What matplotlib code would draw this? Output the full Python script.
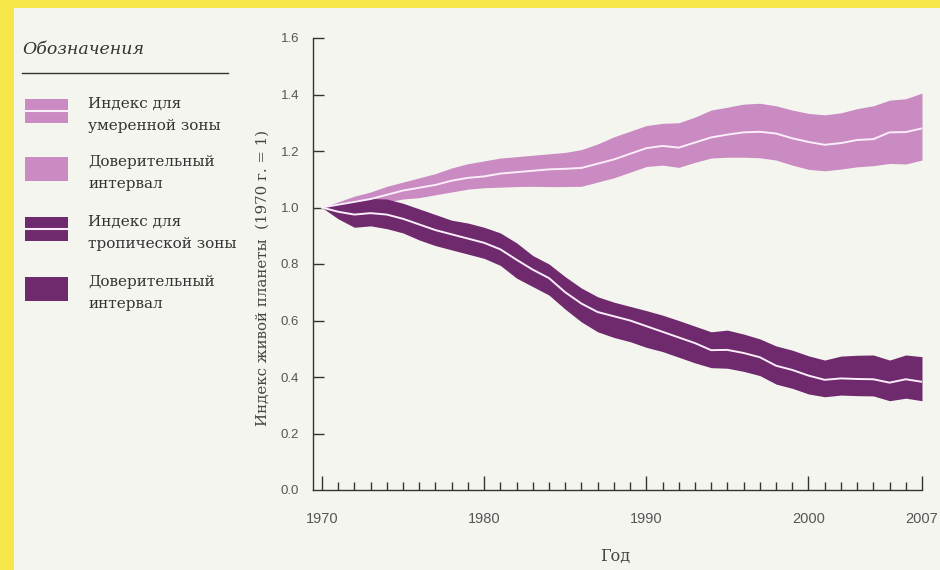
import numpy as np
import matplotlib.pyplot as plt
from matplotlib.patches import Rectangle
from matplotlib.lines import Line2D
from matplotlib.ticker import MultipleLocator, FixedLocator

years = list(range(1970, 2008))

# temperate zone index and confidence interval
temp_mid = [1.00, 1.01, 1.02, 1.03, 1.045, 1.06, 1.07, 1.08, 1.095, 1.105,
            1.11, 1.12, 1.125, 1.13, 1.135, 1.137, 1.14, 1.155, 1.17, 1.19,
            1.21, 1.218, 1.212, 1.23, 1.248, 1.258, 1.266, 1.268, 1.262, 1.245,
            1.232, 1.222, 1.228, 1.239, 1.242, 1.266, 1.267, 1.28]
temp_lo = [1.00, 1.00, 1.005, 1.01, 1.02, 1.03, 1.035, 1.045, 1.055, 1.065,
           1.07, 1.072, 1.074, 1.075, 1.074, 1.074, 1.075, 1.09, 1.105, 1.125,
           1.145, 1.15, 1.142, 1.16, 1.175, 1.178, 1.178, 1.176, 1.168, 1.15,
           1.135, 1.13, 1.136, 1.144, 1.148, 1.156, 1.154, 1.168]
temp_hi = [1.00, 1.02, 1.04, 1.055, 1.075, 1.09, 1.105, 1.12, 1.14, 1.155,
           1.165, 1.175, 1.18, 1.185, 1.19, 1.195, 1.205, 1.225, 1.25, 1.27,
           1.29, 1.298, 1.30, 1.32, 1.345, 1.355, 1.366, 1.369, 1.36, 1.345,
           1.333, 1.328, 1.335, 1.35, 1.36, 1.38, 1.385, 1.405]

# tropical zone index and confidence interval
trop_mid = [1.00, 0.985, 0.975, 0.98, 0.975, 0.96, 0.94, 0.92, 0.905, 0.89,
            0.875, 0.852, 0.815, 0.78, 0.75, 0.70, 0.66, 0.63, 0.615, 0.60,
            0.58, 0.56, 0.54, 0.52, 0.495, 0.496, 0.485, 0.47, 0.44, 0.425,
            0.405, 0.39, 0.395, 0.393, 0.392, 0.38, 0.392, 0.383]
trop_lo = [1.00, 0.96, 0.93, 0.935, 0.925, 0.91, 0.885, 0.865, 0.85, 0.835,
           0.82, 0.795, 0.75, 0.72, 0.69, 0.64, 0.595, 0.56, 0.54, 0.525,
           0.505, 0.49, 0.47, 0.45, 0.433, 0.431, 0.42, 0.405, 0.375, 0.36,
           0.34, 0.33, 0.336, 0.334, 0.333, 0.316, 0.325, 0.316]
trop_hi = [1.00, 1.015, 1.025, 1.032, 1.03, 1.015, 0.995, 0.975, 0.955, 0.945,
           0.93, 0.91, 0.875, 0.83, 0.80, 0.755, 0.715, 0.684, 0.665, 0.65,
           0.635, 0.619, 0.60, 0.58, 0.56, 0.566, 0.552, 0.535, 0.51, 0.495,
           0.475, 0.46, 0.474, 0.477, 0.478, 0.46, 0.478, 0.472]

legend_labels = ['Индекс для\nумеренной зоны', 'Доверительный\nинтервал',
                 'Индекс для\nтропической зоны', 'Доверительный\nинтервал']

light = '#c98bc1'
dark = '#6f2a6d'
line_c = '#fbeefa'
bg = '#f5f5f0'
serif = ['DejaVu Serif']

fig = plt.figure(figsize=(9.4, 5.7), dpi=100)
fig.patch.set_facecolor('#f7e84a')
fig.patches.append(Rectangle((14/940, 0), 1, (570-8)/570, transform=fig.transFigure,
                             facecolor=bg, edgecolor='none', zorder=-10))

ax = fig.add_axes([313/940, 80/570, (922-313)/940, (490-38)/570])
ax.set_facecolor('none')
ax.set_zorder(5)

ax.fill_between(years, temp_lo, temp_hi, color=light, lw=0)
ax.plot(years, temp_mid, color=line_c, lw=1.4)
ax.fill_between(years, trop_lo, trop_hi, color=dark, lw=0)
ax.plot(years, trop_mid, color=line_c, lw=1.4)

ax.set_xlim(1969.45, 2007)
ax.set_ylim(0, 1.6)
for s in ['top', 'right']:
    ax.spines[s].set_visible(False)
for s in ['left', 'bottom']:
    ax.spines[s].set_color('#333333')
    ax.spines[s].set_linewidth(1.0)

ax.xaxis.set_major_locator(FixedLocator([1970, 1980, 1990, 2000, 2007]))
ax.xaxis.set_minor_locator(MultipleLocator(1))
ax.set_yticks([0.2, 0.4, 0.6, 0.8, 1.0, 1.2, 1.4, 1.6])
ax.set_yticks([0.0], minor=True)
ax.yaxis.set_minor_formatter(plt.FixedFormatter(['0.0']))
ax.tick_params(axis='x', which='major', direction='in', length=10, width=1,
               color='#333333', labelsize=10.5, labelcolor='#555555', pad=16)
ax.tick_params(axis='x', which='minor', direction='in', length=6, width=1, color='#333333')
ax.tick_params(axis='y', which='major', direction='in', length=8, width=1,
               color='#333333', labelsize=9.5, labelcolor='#555555', pad=10)
ax.tick_params(axis='y', which='minor', length=0, labelsize=9.5,
               labelcolor='#555555', pad=10)
for lbl in ax.get_xticklabels() + ax.get_yticklabels(minor=False) + ax.get_yticklabels(minor=True):
    lbl.set_family(['Liberation Sans', 'DejaVu Sans'])

fig.text(263/940, 1 - 278/570, 'Индекс живой планеты  (1970 г. = 1)', rotation=90,
         ha='center', va='center', family=serif, fontsize=10.8, color='#444444')
fig.text(615/940, 1 - 556/570, 'Год', ha='center', va='center',
         family=serif, fontsize=11.5, color='#444444')

# legend panel
fig.text(22/940, 1 - 50/570, 'Обозначения', ha='left', va='center', family=serif,
         style='italic', fontsize=12.5, color='#333333')
fig.add_artist(Line2D([22/940, 228/940], [1 - 73/570, 1 - 73/570], color='#333333', lw=1))

box_y = [99, 157, 217, 277]
box_c = [light, light, dark, dark]
with_line = [True, False, True, False]
for yy, c, wl, lab in zip(box_y, box_c, with_line, legend_labels):
    fig.patches.append(Rectangle((25/940, 1 - (yy + 24)/570), 43/940, 24/570,
                                 transform=fig.transFigure, facecolor=c, edgecolor='none'))
    if wl:
        fig.add_artist(Line2D([25/940, 68/940], [1 - (yy + 12)/570] * 2, color=line_c, lw=1.5))
    fig.text(88/940, 1 - (yy + 16)/570, lab, ha='left', va='center', family=serif,
             fontsize=11, color='#333333', linespacing=1.8)

fig.savefig('out.png', dpi=100, facecolor=fig.get_facecolor())
